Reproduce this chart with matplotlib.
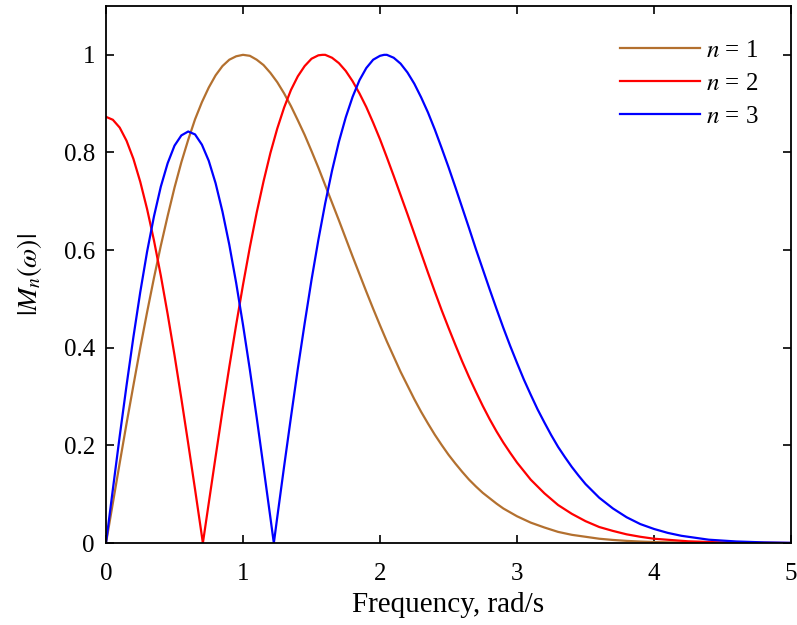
"""Magnitude |M_n(w)| for n = 1, 2, 3 versus frequency."""

import matplotlib
matplotlib.use('Agg')
import matplotlib.pyplot as plt

# values
w1 = [0, 0.05, 0.1, 0.15, 0.2, 0.25, 0.3, 0.35, 0.4, 0.45, 0.5, 0.55, 0.6,
      0.65, 0.7, 0.75, 0.8, 0.85, 0.9, 0.95, 1.0, 1.05, 1.1, 1.15, 1.2, 1.25,
      1.3, 1.35, 1.4, 1.45, 1.5, 1.55, 1.6, 1.65, 1.7, 1.75, 1.8, 1.85, 1.9,
      1.95, 2.0, 2.05, 2.1, 2.15, 2.2, 2.25, 2.3, 2.35, 2.4, 2.45, 2.5, 2.55,
      2.6, 2.65, 2.7, 2.75, 2.8, 2.85, 2.9, 2.95, 3.0, 3.1, 3.2, 3.3, 3.4,
      3.5, 3.6, 3.7, 3.8, 3.9, 4.0, 4.25, 4.5, 5.0]
m1 = [0, 0.082, 0.164, 0.245, 0.323, 0.400, 0.473, 0.543, 0.609, 0.670,
      0.728, 0.780, 0.826, 0.868, 0.903, 0.933, 0.958, 0.977, 0.990, 0.997,
      1.0, 0.998, 0.990, 0.979, 0.963, 0.944, 0.921, 0.895, 0.866, 0.836,
      0.803, 0.769, 0.733, 0.697, 0.661, 0.624, 0.587, 0.551, 0.515, 0.480,
      0.446, 0.413, 0.382, 0.351, 0.323, 0.295, 0.269, 0.245, 0.222, 0.201,
      0.181, 0.163, 0.146, 0.130, 0.116, 0.103, 0.092, 0.081, 0.071, 0.063,
      0.055, 0.042, 0.032, 0.023, 0.017, 0.013, 0.009, 0.0065, 0.0046,
      0.0032, 0.0022, 0.0008, 0.0003, 0.0]

w2 = [0, 0.05, 0.1, 0.15, 0.2, 0.25, 0.3, 0.35, 0.4, 0.45, 0.5, 0.55, 0.6,
      0.65, 0.7, 0.707, 0.75, 0.8, 0.85, 0.9, 0.95, 1.0, 1.05, 1.1, 1.15,
      1.2, 1.25, 1.3, 1.35, 1.4, 1.45, 1.5, 1.55, 1.58, 1.6, 1.65, 1.7, 1.75,
      1.8, 1.85, 1.9, 1.95, 2.0, 2.05, 2.1, 2.15, 2.2, 2.25, 2.3, 2.35, 2.4,
      2.45, 2.5, 2.55, 2.6, 2.65, 2.7, 2.75, 2.8, 2.85, 2.9, 2.95, 3.0, 3.1,
      3.2, 3.3, 3.4, 3.5, 3.6, 3.7, 3.8, 3.9, 4.0, 4.25, 4.5, 5.0]
m2 = [0.873, 0.867, 0.851, 0.824, 0.787, 0.740, 0.684, 0.620, 0.548, 0.469,
      0.385, 0.296, 0.204, 0.110, 0.014, 0.0, 0.082, 0.177, 0.271, 0.361,
      0.447, 0.529, 0.606, 0.677, 0.741, 0.799, 0.849, 0.892, 0.928, 0.956,
      0.977, 0.992, 0.999, 1.0, 1.0, 0.994, 0.983, 0.967, 0.946, 0.921,
      0.893, 0.861, 0.827, 0.790, 0.752, 0.713, 0.674, 0.634, 0.594, 0.554,
      0.515, 0.477, 0.441, 0.406, 0.372, 0.340, 0.310, 0.281, 0.254, 0.229,
      0.206, 0.185, 0.165, 0.130, 0.102, 0.078, 0.060, 0.045, 0.033, 0.025,
      0.018, 0.013, 0.009, 0.0037, 0.0014, 0.0002]

w3 = [0, 0.05, 0.1, 0.15, 0.2, 0.25, 0.3, 0.35, 0.4, 0.45, 0.5, 0.55, 0.6,
      0.65, 0.7, 0.75, 0.8, 0.85, 0.9, 0.95, 1.0, 1.05, 1.1, 1.15, 1.2,
      1.225, 1.25, 1.3, 1.35, 1.4, 1.45, 1.5, 1.55, 1.6, 1.65, 1.7, 1.75, 1.8,
      1.85, 1.9, 1.95, 2.0, 2.03, 2.05, 2.1, 2.15, 2.2, 2.25, 2.3, 2.35, 2.4,
      2.45, 2.5, 2.55, 2.6, 2.65, 2.7, 2.75, 2.8, 2.85, 2.9, 2.95, 3.0, 3.05,
      3.1, 3.15, 3.2, 3.25, 3.3, 3.35, 3.4, 3.45, 3.5, 3.6, 3.7, 3.8, 3.9,
      4.0, 4.1, 4.2, 4.4, 4.6, 4.8, 5.0]
m3 = [0, 0.110, 0.219, 0.323, 0.422, 0.514, 0.597, 0.669, 0.730, 0.778,
      0.814, 0.835, 0.843, 0.837, 0.816, 0.783, 0.737, 0.679, 0.611, 0.533,
      0.447, 0.355, 0.257, 0.155, 0.052, 0.0, 0.053, 0.157, 0.258, 0.357,
      0.450, 0.539, 0.621, 0.696, 0.763, 0.822, 0.872, 0.914, 0.948, 0.973,
      0.990, 0.998, 1.0, 1.0, 0.994, 0.982, 0.964, 0.941, 0.913, 0.882, 0.847,
      0.809, 0.770, 0.729, 0.687, 0.645, 0.602, 0.561, 0.520, 0.480, 0.441,
      0.404, 0.369, 0.335, 0.304, 0.274, 0.247, 0.221, 0.197, 0.176, 0.156,
      0.138, 0.121, 0.093, 0.071, 0.053, 0.039, 0.029, 0.021, 0.015, 0.007,
      0.0034, 0.0015, 0.0006]

labels = ['$n$ = 1', '$n$ = 2', '$n$ = 3']
colors = ['#b3702f', '#ff0000', '#0000ff']


def main():
    plt.rcParams['font.family'] = ['Liberation Serif', 'DejaVu Serif']
    plt.rcParams['mathtext.fontset'] = 'stix'
    plt.rcParams['font.size'] = 18

    fig = plt.figure(figsize=(7.97, 6.25), dpi=100)
    ax = fig.add_axes([0.133, 0.131, 0.8595, 0.8594])

    for w, m, lab, c in zip([w1, w2, w3], [m1, m2, m3], labels, colors):
        ax.plot(w, m, color=c, lw=1.6, label=lab)

    ax.set_xlim(0, 5)
    ax.set_ylim(0, 1.1)
    ax.set_xticks([0, 1, 2, 3, 4, 5])
    ax.set_yticks([0, 0.2, 0.4, 0.6, 0.8, 1])
    ax.set_yticklabels(['0', '0.2', '0.4', '0.6', '0.8', '1'])
    ax.tick_params(direction='in', top=True, right=True, length=6, width=1.2)
    ax.tick_params(axis='x', pad=14)
    ax.tick_params(axis='y', pad=8)
    for s in ax.spines.values():
        s.set_linewidth(1.3)

    ax.set_xlabel('Frequency, rad/s', fontsize=21, labelpad=5)
    ax.set_ylabel(r'$|M_n(\omega)|$', fontsize=20, labelpad=14)

    ax.legend(loc='upper right', frameon=False, handlelength=3.2,
              handletextpad=0.25, labelspacing=0.43, borderaxespad=0.3,
              bbox_to_anchor=(0.978, 0.971))

    fig.savefig('out.png', dpi=100)


if __name__ == '__main__':
    main()
